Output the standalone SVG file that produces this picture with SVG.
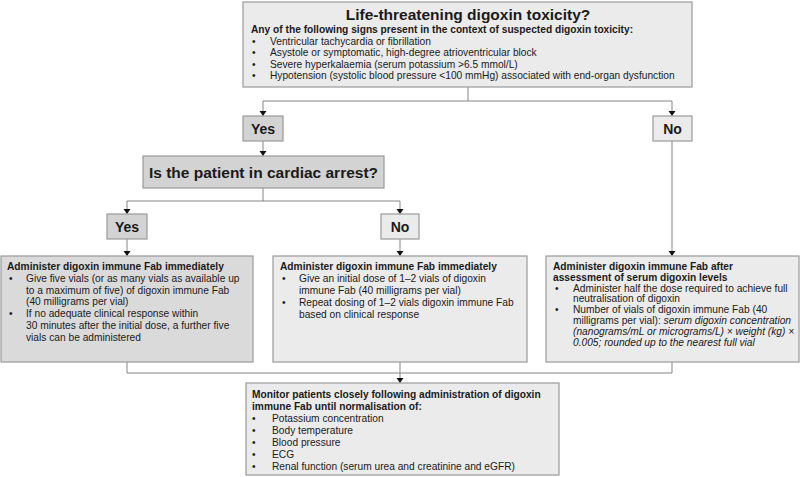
<svg xmlns="http://www.w3.org/2000/svg" width="800" height="477" viewBox="0 0 800 477">
<style>
text{font-family:"Liberation Sans",Arial,sans-serif;fill:#1a1a1a;font-size:10.2px}
.b{font-weight:bold}
.i{font-style:italic}
.t{font-weight:bold;font-size:15.5px;text-anchor:middle}
.yn{font-weight:bold;font-size:14px;text-anchor:middle}
.lt{fill:#ebebeb;stroke:#9a9a9a;stroke-width:1.2}
.dk{fill:#d3d3d3;stroke:#9a9a9a;stroke-width:1.2}
.md{fill:#dadada;stroke:#9a9a9a;stroke-width:1.2}
.c{fill:none;stroke:#858585;stroke-width:1}
</style>
<defs>
<marker id="ah" markerUnits="userSpaceOnUse" markerWidth="6" markerHeight="8" refX="5" refY="3.5" orient="auto">
<path d="M0,0 L5,3.5 L0,7 z" fill="#111"/>
</marker>
</defs>
<rect width="800" height="477" fill="#fff"/>
<g id="connectors">
<path class="c" d="M468,87 V101"/>
<path class="c" d="M263,101 H672"/>
<path class="c" d="M263,101 V116" marker-end="url(#ah)"/>
<path class="c" d="M672,101 V116" marker-end="url(#ah)"/>
<path class="c" d="M263,141 V156" marker-end="url(#ah)"/>
<path class="c" d="M263,188 V201"/>
<path class="c" d="M127,201 H400"/>
<path class="c" d="M127,201 V214" marker-end="url(#ah)"/>
<path class="c" d="M400,201 V214" marker-end="url(#ah)"/>
<path class="c" d="M127,239 V256" marker-end="url(#ah)"/>
<path class="c" d="M400,239 V256" marker-end="url(#ah)"/>
<path class="c" d="M672,141 V256" marker-end="url(#ah)"/>
<path class="c" d="M127,362 V373"/>
<path class="c" d="M672,362 V373"/>
<path class="c" d="M127,373 H672"/>
<path class="c" d="M400,362 V383" marker-end="url(#ah)"/>
</g>
<g id="toxicity">
<rect class="lt" x="243" y="2" width="449" height="85"/>
<text class="t" x="468" y="20">Life-threatening digoxin toxicity?</text>
<text class="b" x="251" y="32.5">Any of the following signs present in the context of suspected digoxin toxicity:</text>
<text x="252" y="44.5">•</text><text x="270" y="44.5">Ventricular tachycardia or fibrillation</text>
<text x="252" y="56">•</text><text x="270" y="56">Asystole or symptomatic, high-degree atrioventricular block</text>
<text x="252" y="67.5">•</text><text x="270" y="67.5">Severe hyperkalaemia (serum potassium &gt;6.5 mmol/L)</text>
<text x="252" y="79">•</text><text x="270" y="79">Hypotension (systolic blood pressure &lt;100 mmHg) associated with end-organ dysfunction</text>
</g>
<g id="yes1">
<rect class="dk" x="243" y="116" width="40" height="25"/>
<text class="yn" x="263" y="133.5">Yes</text>
</g>
<g id="no1">
<rect class="lt" x="653" y="116" width="39" height="25"/>
<text class="yn" x="672.5" y="133.5">No</text>
</g>
<g id="cardiac">
<rect class="dk" x="143" y="156" width="241" height="32"/>
<text class="t" x="263.5" y="177.5">Is the patient in cardiac arrest?</text>
</g>
<g id="yes2">
<rect class="dk" x="107" y="214" width="40" height="25"/>
<text class="yn" x="127" y="231.5">Yes</text>
</g>
<g id="no2">
<rect class="lt" x="381" y="214" width="38" height="25"/>
<text class="yn" x="400" y="231.5">No</text>
</g>
<g id="arrest-yes">
<rect class="md" x="1" y="256" width="252" height="106"/>
<text class="b" x="7" y="270">Administer digoxin immune Fab immediately</text>
<text x="9" y="282">•</text><text x="26" y="282">Give five vials (or as many vials as available up</text>
<text x="26" y="293.7">to a maximum of five) of digoxin immune Fab</text>
<text x="26" y="305.4">(40 milligrams per vial)</text>
<text x="9" y="317.1">•</text><text x="26" y="317.1">If no adequate clinical response within</text>
<text x="26" y="328.8">30 minutes after the initial dose, a further five</text>
<text x="26" y="340.5">vials can be administered</text>
</g>
<g id="arrest-no">
<rect class="lt" x="273" y="256" width="254" height="106"/>
<text class="b" x="280" y="270">Administer digoxin immune Fab immediately</text>
<text x="282" y="282">•</text><text x="299" y="282">Give an initial dose of 1–2 vials of digoxin</text>
<text x="299" y="293.7">immune Fab (40 milligrams per vial)</text>
<text x="282" y="306">•</text><text x="299" y="306">Repeat dosing of 1–2 vials digoxin immune Fab</text>
<text x="299" y="317.7">based on clinical response</text>
</g>
<g id="no-threat">
<rect class="lt" x="546" y="256" width="253" height="106"/>
<text class="b" x="553" y="270">Administer digoxin immune Fab after</text>
<text class="b" x="553" y="280.8">assessment of serum digoxin levels</text>
<text x="555" y="291.6">•</text><text x="573" y="291.6">Administer half the dose required to achieve full</text>
<text x="573" y="302.4">neutralisation of digoxin</text>
<text x="555" y="313.2">•</text><text x="573" y="313.2">Number of vials of digoxin immune Fab (40</text>
<text x="573" y="324">milligrams per vial): <tspan class="i">serum digoxin concentration</tspan></text>
<text class="i" x="573" y="334.8">(nanograms/mL or micrograms/L) × weight (kg) ×</text>
<text class="i" x="573" y="345.6">0.005; rounded up to the nearest full vial</text>
</g>
<g id="monitor">
<rect class="lt" x="246" y="383" width="313" height="92"/>
<text class="b" x="252" y="398">Monitor patients closely following administration of digoxin</text>
<text class="b" x="252" y="409.5">immune Fab until normalisation of:</text>
<text x="252" y="421.5">•</text><text x="272" y="421.5">Potassium concentration</text>
<text x="252" y="433.5">•</text><text x="272" y="433.5">Body temperature</text>
<text x="252" y="445.5">•</text><text x="272" y="445.5">Blood pressure</text>
<text x="252" y="457.5">•</text><text x="272" y="457.5">ECG</text>
<text x="252" y="469.5">•</text><text x="272" y="469.5">Renal function (serum urea and creatinine and eGFR)</text>
</g>
</svg>
